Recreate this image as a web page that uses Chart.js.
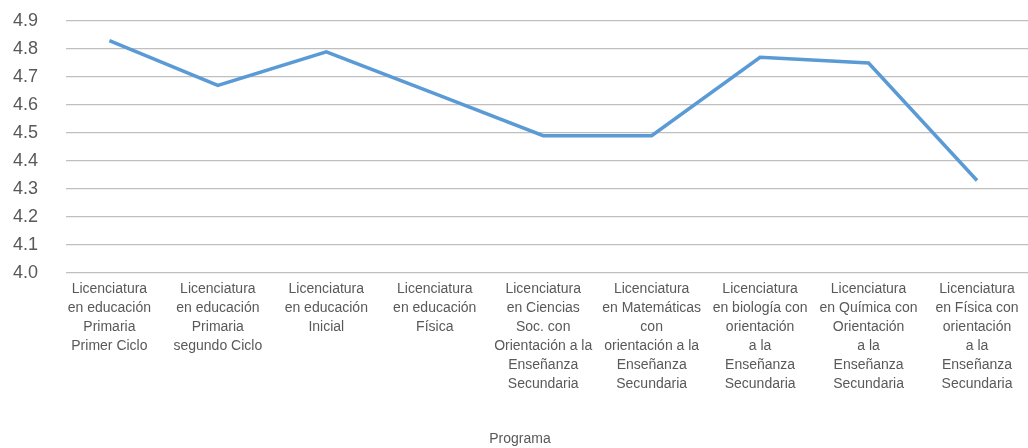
<!DOCTYPE html>
<html>
<head>
<meta charset="utf-8">
<script src="https://cdn.jsdelivr.net/npm/chart.js@4"></script>
<style>
  body { margin: 0; background: #fff; overflow: hidden; }
  canvas { display: block; }
</style>
</head>
<body>
<canvas id="chart" width="1028" height="448"></canvas>
<script>
// Programas (etiquetas en varias líneas, como en el original)
const programas = [
    ['Licenciatura', 'en educación', 'Primaria', 'Primer Ciclo'],
    ['Licenciatura', 'en educación', 'Primaria', 'segundo Ciclo'],
    ['Licenciatura', 'en educación', 'Inicial'],
    ['Licenciatura', 'en educación', 'Física'],
    ['Licenciatura', 'en Ciencias', 'Soc. con', 'Orientación a la', 'Enseñanza', 'Secundaria'],
    ['Licenciatura', 'en Matemáticas', 'con', 'orientación a la', 'Enseñanza', 'Secundaria'],
    ['Licenciatura', 'en biología con', 'orientación', 'a la', 'Enseñanza', 'Secundaria'],
    ['Licenciatura', 'en Química con', 'Orientación', 'a la', 'Enseñanza', 'Secundaria'],
    ['Licenciatura', 'en Física con', 'orientación', 'a la', 'Enseñanza', 'Secundaria']
];
const valores = [4.83, 4.67, 4.79, 4.64, 4.49, 4.49, 4.77, 4.75, 4.33];
const yTicks = [4.0, 4.1, 4.2, 4.3, 4.4, 4.5, 4.6, 4.7, 4.8, 4.9];

const gris = '#595959';
const fuente = 'Liberation Sans, Arial, sans-serif';

const ctx = document.getElementById('chart').getContext('2d');
new Chart(ctx, {
    type: 'line',
    data: {
        datasets: [{
            data: valores.map((v, i) => ({ x: i, y: v })),
            borderColor: '#5b9bd5',
            borderWidth: 3.5,
            pointRadius: 0,
            tension: 0,
            fill: false
        }]
    },
    options: {
        responsive: false,
        animation: false,
        layout: { padding: { left: 12, right: 0, top: 21, bottom: 0 } },
        plugins: {
            legend: { display: false },
            tooltip: { enabled: false },
            title: {
                display: true,
                position: 'bottom',
                text: 'Programa',
                color: gris,
                font: { family: fuente, size: 14, weight: 'normal' },
                padding: { top: 31, bottom: 0 }
            }
        },
        scales: {
            x: {
                type: 'linear',
                min: -0.4,
                max: 8.47,
                afterBuildTicks: (axis) => { axis.ticks = programas.map((_, i) => ({ value: i })); },
                // las etiquetas no empujan el área del gráfico
                afterFit: (axis) => { axis.paddingLeft = 0; axis.paddingRight = 0; },
                grid: { display: false, drawTicks: false },
                border: { display: false },
                ticks: {
                    autoSkip: false,
                    maxRotation: 0,
                    padding: 7,
                    color: gris,
                    font: { family: fuente, size: 14, lineHeight: 1.35 },
                    callback: (v) => programas[v]
                }
            },
            y: {
                min: 4.0,
                max: 4.9,
                afterBuildTicks: (axis) => { axis.ticks = yTicks.map(v => ({ value: v })); },
                afterFit: (axis) => {
                    axis.width = 54;
                    axis.paddingTop = 0;
                    axis.paddingBottom = 0;
                },
                grid: { color: '#bfbfbf', lineWidth: 1.3, drawTicks: false },
                border: { display: false },
                ticks: {
                    padding: 28,
                    color: gris,
                    font: { family: fuente, size: 18 },
                    callback: (v) => v.toFixed(1)
                }
            }
        }
    }
});
</script>
</body>
</html>
